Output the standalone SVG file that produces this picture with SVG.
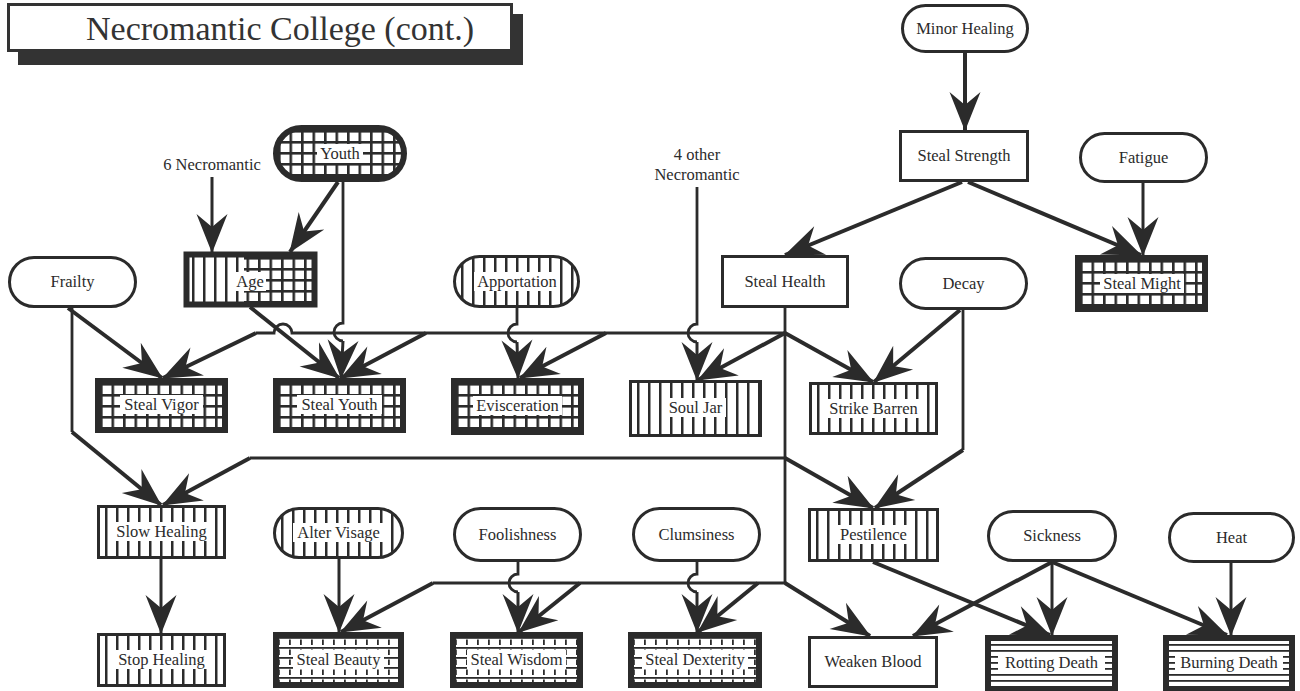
<svg xmlns="http://www.w3.org/2000/svg" width="1300" height="691" viewBox="0 0 1300 691">
<style>
.lbl{font-family:"Liberation Serif","Times New Roman",serif;font-size:16.5px;fill:#2b2b2b;text-anchor:middle}
.title{font-family:"Liberation Serif","Times New Roman",serif;font-size:34px;fill:#333;text-anchor:middle}
.b{stroke:#2b2b2b;stroke-width:3}
.bk{stroke:#2b2b2b;stroke-width:6}
.fw{fill:#fff}
.fv{fill:url(#pv)}
.fg{fill:url(#pg)}
.fd{fill:url(#pd)}
.fh{fill:url(#ph)}
.lb{fill:#fff}
.c{fill:none;stroke:#2b2b2b;stroke-width:4;marker-end:url(#ah)}
.ca{fill:none;stroke:#2b2b2b;stroke-width:3;marker-end:url(#ah)}
.t{fill:none;stroke:#2b2b2b;stroke-width:2.8}
</style>
<defs>
<marker id="ah" markerUnits="userSpaceOnUse" markerWidth="46" markerHeight="36" viewBox="-40 -18 42 36" refX="0" refY="0" orient="auto" overflow="visible">
<path d="M1,0 L-38,-15.5 L-25,0 L-38,15.5 Z" fill="#2b2b2b"/>
</marker>
<pattern id="pv" patternUnits="userSpaceOnUse" x="2" y="0" width="11" height="10"><rect width="11" height="10" fill="#fff"/><rect x="6" width="2.5" height="10" fill="#2b2b2b"/></pattern>
<pattern id="pg" patternUnits="userSpaceOnUse" x="5" y="5" width="11.5" height="11"><rect width="11.5" height="11" fill="#2b2b2b"/><rect x="2.6" y="2.6" width="8.9" height="8.4" fill="#fff"/></pattern>
<pattern id="pd" patternUnits="userSpaceOnUse" x="5" y="5" width="11" height="10"><rect width="11" height="10" fill="#fff"/><rect y="0" width="11" height="1.8" fill="#2b2b2b"/><rect x="0" y="2.5" width="1.8" height="5.5" fill="#2b2b2b"/></pattern>
<pattern id="ph" patternUnits="userSpaceOnUse" x="0" y="9" width="10" height="6"><rect width="10" height="6" fill="#fff"/><rect width="10" height="1.8" fill="#2b2b2b"/></pattern>
</defs>
<rect width="1300" height="691" fill="#fff"/>

<g id="title">
<rect x="18" y="14" width="505" height="51" fill="#333"/>
<rect x="8.5" y="4.5" width="503" height="46" fill="#fff" stroke="#333" stroke-width="3"/>
<text class="title" x="280" y="40">Necromantic College (cont.)</text>
</g>

<g id="free-labels">
<text class="lbl" x="212" y="170">6 Necromantic</text>
<text class="lbl" x="697" y="160">4 other</text>
<text class="lbl" x="697" y="180">Necromantic</text>
</g>

<g id="connectors">
<path class="c" d="M965,53 V130"/>
<path class="c" d="M962,182 L785,255"/>
<path class="c" d="M968,182 L1141,255"/>
<path class="ca" d="M1143,183 V255"/>
<path class="ca" d="M212,177 V252"/>
<path class="c" d="M338,182 L290,252"/>
<path class="t" d="M343,182 V323 A9,9 0 0 0 343,341"/>
<path class="ca" d="M343,341 L341,378"/>
<path class="c" d="M250,307 L339,378"/>
<path class="t" d="M785,308 V583"/>
<path class="t" d="M785,333 H292 A9,9 0 0 0 274,333 H256"/>
<path class="c" d="M256,333 L163,378"/>
<path class="c" d="M426,333 L341,378"/>
<path class="c" d="M606,333 L520,378"/>
<path class="c" d="M785,333 L698,380"/>
<path class="c" d="M785,333 L873,382"/>
<path class="t" d="M517,308 V324 A9,9 0 0 0 517,342"/>
<path class="ca" d="M517,342 L518,378"/>
<path class="t" d="M697,187 V324 A9,9 0 0 0 697,342"/>
<path class="ca" d="M697,342 L697,380"/>
<path class="c" d="M68,308 L162,378"/>
<path class="t" d="M72,308 V432"/>
<path class="c" d="M72,432 L161,505"/>
<path class="c" d="M960,310 L874,382"/>
<path class="t" d="M963,310 V450"/>
<path class="c" d="M963,450 L875,508"/>
<path class="t" d="M785,458 H250"/>
<path class="c" d="M250,458 L163,505"/>
<path class="c" d="M785,458 L873,508"/>
<path class="ca" d="M161,559 V633"/>
<path class="ca" d="M339,559 V632"/>
<path class="t" d="M785,583 H433"/>
<path class="c" d="M433,583 L341,632"/>
<path class="c" d="M580,583 L519,632"/>
<path class="c" d="M758,583 L698,632"/>
<path class="c" d="M785,583 L870,636"/>
<path class="t" d="M518,562 V574 A9,9 0 0 0 518,592"/>
<path class="ca" d="M518,592 V632"/>
<path class="t" d="M697,562 V574 A9,9 0 0 0 697,592"/>
<path class="ca" d="M697,592 V632"/>
<path class="c" d="M873,562 L1050,635"/>
<path class="c" d="M1052,562 L913,636"/>
<path class="ca" d="M1052,562 V635"/>
<path class="c" d="M1052,562 L1227,635"/>
<path class="ca" d="M1231,563 V635"/>
</g>

<g id="minor-healing" transform="translate(901,4)"><rect class="b fw" x="1.5" y="1.5" width="125" height="46" rx="23"/><text class="lbl" x="64" y="30">Minor Healing</text></g>
<g id="steal-strength" transform="translate(899,130)"><rect class="b fw" x="1.5" y="1.5" width="127" height="49"/><text class="lbl" x="65" y="31">Steal Strength</text></g>
<g id="fatigue" transform="translate(1079,132)"><rect class="b fw" x="1.5" y="1.5" width="126" height="48" rx="24"/><text class="lbl" x="64.5" y="31">Fatigue</text></g>
<g id="youth" transform="translate(273,125)"><rect class="bk fg" x="3" y="3" width="128" height="51" rx="25.5"/><rect class="lb" x="44" y="19" width="46" height="19"/><text class="lbl" x="67" y="34">Youth</text></g>
<g id="age" transform="translate(184,252)"><rect class="fv" x="3" y="3" width="60" height="49"/><rect class="fg" x="60" y="3" width="70" height="49"/><rect fill="none" class="bk" x="2.5" y="2.5" width="128" height="50"/><rect class="lb" x="50" y="20" width="32" height="19"/><text class="lbl" x="66" y="35">Age</text></g>
<g id="frailty" transform="translate(8,256)"><rect class="b fw" x="1.5" y="1.5" width="126" height="49" rx="24.5"/><text class="lbl" x="64.5" y="31">Frailty</text></g>
<g id="apportation" transform="translate(453,255)"><rect class="b fv" x="1.5" y="1.5" width="124" height="50" rx="25"/><rect class="lb" x="21" y="17" width="86" height="19"/><text class="lbl" x="64" y="32">Apportation</text></g>
<g id="steal-health" transform="translate(721,255)"><rect class="b fw" x="1.5" y="1.5" width="125" height="50"/><text class="lbl" x="64" y="32">Steal Health</text></g>
<g id="decay" transform="translate(899,257)"><rect class="b fw" x="1.5" y="1.5" width="126" height="50" rx="25"/><text class="lbl" x="64.5" y="32">Decay</text></g>
<g id="steal-might" transform="translate(1075,255)"><rect class="bk fg" x="3" y="3" width="127" height="51"/><rect class="lb" x="25" y="19" width="84" height="19"/><text class="lbl" x="67" y="34">Steal Might</text></g>
<g id="steal-vigor" transform="translate(95,378)"><rect class="bk fg" x="3" y="3" width="127" height="49"/><rect class="lb" x="25" y="17" width="83" height="19"/><text class="lbl" x="66.5" y="32">Steal Vigor</text></g>
<g id="steal-youth" transform="translate(273,378)"><rect class="bk fg" x="3" y="3" width="127" height="49"/><rect class="lb" x="24" y="17" width="85" height="19"/><text class="lbl" x="66.5" y="32">Steal Youth</text></g>
<g id="evisceration" transform="translate(451,378)"><rect class="bk fg" x="3" y="3" width="127" height="51"/><rect class="lb" x="22" y="18" width="89" height="19"/><text class="lbl" x="66.5" y="33">Evisceration</text></g>
<g id="soul-jar" transform="translate(629,380)"><rect class="b fv" x="1.5" y="1.5" width="130" height="54"/><rect class="lb" x="36" y="18" width="61" height="19"/><text class="lbl" x="66.5" y="33">Soul Jar</text></g>
<g id="strike-barren" transform="translate(809,382)"><rect class="b fv" x="1.5" y="1.5" width="126" height="50"/><rect class="lb" x="17" y="17" width="95" height="19"/><text class="lbl" x="64.5" y="32">Strike Barren</text></g>
<g id="slow-healing" transform="translate(97,505)"><rect class="b fv" x="1.5" y="1.5" width="126" height="51"/><rect class="lb" x="16" y="17" width="97" height="19"/><text class="lbl" x="64.5" y="32">Slow Healing</text></g>
<g id="alter-visage" transform="translate(273,507)"><rect class="b fv" x="1.5" y="1.5" width="128" height="49" rx="24.5"/><rect class="lb" x="20" y="16" width="91" height="19"/><text class="lbl" x="65.5" y="31">Alter Visage</text></g>
<g id="foolishness" transform="translate(453,507)"><rect class="b fw" x="1.5" y="1.5" width="126" height="52" rx="26"/><text class="lbl" x="64.5" y="33">Foolishness</text></g>
<g id="clumsiness" transform="translate(632,507)"><rect class="b fw" x="1.5" y="1.5" width="126" height="52" rx="26"/><text class="lbl" x="64.5" y="33">Clumsiness</text></g>
<g id="pestilence" transform="translate(808,508)"><rect class="b fv" x="1.5" y="1.5" width="128" height="51"/><rect class="lb" x="29" y="17" width="73" height="19"/><text class="lbl" x="65.5" y="32">Pestilence</text></g>
<g id="sickness" transform="translate(987,510)"><rect class="b fw" x="1.5" y="1.5" width="127" height="49" rx="24.5"/><text class="lbl" x="65" y="31">Sickness</text></g>
<g id="heat" transform="translate(1168,512)"><rect class="b fw" x="1.5" y="1.5" width="124" height="48" rx="24"/><text class="lbl" x="63.5" y="31">Heat</text></g>
<g id="stop-healing" transform="translate(97,633)"><rect class="b fv" x="1.5" y="1.5" width="126" height="51"/><rect class="lb" x="18" y="17" width="93" height="19"/><text class="lbl" x="64.5" y="32">Stop Healing</text></g>
<g id="steal-beauty" transform="translate(273,632)"><rect class="bk fd" x="3" y="3" width="125" height="50"/><rect class="lb" x="20" y="18" width="91" height="19"/><text class="lbl" x="65.5" y="33">Steal Beauty</text></g>
<g id="steal-wisdom" transform="translate(450,632)"><rect class="bk fd" x="3" y="3" width="127" height="50"/><rect class="lb" x="17" y="18" width="99" height="19"/><text class="lbl" x="66.5" y="33">Steal Wisdom</text></g>
<g id="steal-dexterity" transform="translate(628,632)"><rect class="bk fd" x="3" y="3" width="128" height="50"/><rect class="lb" x="14" y="18" width="106" height="19"/><text class="lbl" x="67" y="33">Steal Dexterity</text></g>
<g id="weaken-blood" transform="translate(808,636)"><rect class="b fw" x="1.5" y="1.5" width="127" height="49"/><text class="lbl" x="65" y="31">Weaken Blood</text></g>
<g id="rotting-death" transform="translate(985,635)"><rect class="bk fh" x="3" y="3" width="127" height="51"/><rect class="lb" x="13" y="18" width="107" height="20"/><text class="lbl" x="66.5" y="33">Rotting Death</text></g>
<g id="burning-death" transform="translate(1163,635)"><rect class="bk fh" x="3" y="3" width="126" height="51"/><rect class="lb" x="12" y="18" width="108" height="20"/><text class="lbl" x="66" y="33">Burning Death</text></g>
</svg>
